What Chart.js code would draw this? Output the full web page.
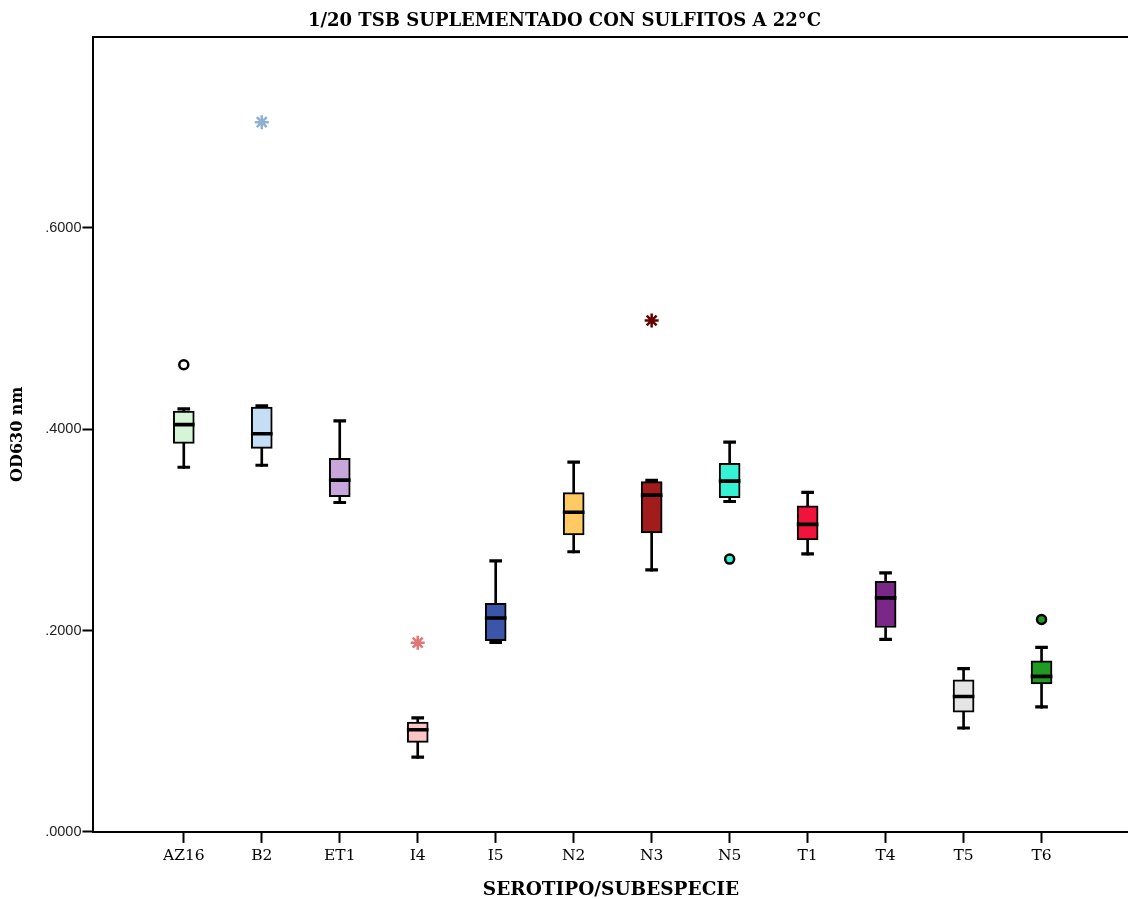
<!DOCTYPE html>
<html lang="es">
<head>
  <meta charset="UTF-8">
  <title>1/20 TSB suplementado con sulfitos a 22°C</title>
  <script src="https://cdn.jsdelivr.net/npm/chart.js"></script>
  <style>
    html, body { margin: 0; padding: 0; background: #fff; overflow: hidden; }
    /* a little wider than the window: the frame runs off the right edge */
    .chart-box { width: 1138px; height: 899px; }
  </style>
</head>
<body>
  <div class="chart-box">
    <canvas id="boxChart"></canvas>
  </div>

  <script>
    // values (OD630 nm)
    const categories = ['AZ16', 'B2', 'ET1', 'I4', 'I5', 'N2', 'N3', 'N5', 'T1', 'T4', 'T5', 'T6'];
    const whiskerLow  = [0.361, 0.363, 0.326, 0.073, 0.187, 0.277, 0.259, 0.327, 0.275, 0.190, 0.102, 0.123];
    const q1          = [0.386, 0.381, 0.333, 0.089, 0.190, 0.295, 0.297, 0.332, 0.290, 0.203, 0.119, 0.147];
    const medians     = [0.403, 0.394, 0.348, 0.100, 0.211, 0.316, 0.333, 0.347, 0.304, 0.231, 0.133, 0.153];
    const q3          = [0.418, 0.422, 0.371, 0.109, 0.227, 0.337, 0.348, 0.366, 0.324, 0.249, 0.151, 0.170];
    const whiskerHigh = [0.419, 0.422, 0.407, 0.112, 0.268, 0.366, 0.348, 0.386, 0.336, 0.256, 0.161, 0.182];

    // outliers (circles) and extremes (stars)
    const outlierGroups = ['AZ16', 'N5', 'T6'];
    const outlierValues = [0.464, 0.271, 0.211];
    const extremeGroups = ['B2', 'I4', 'N3'];
    const extremeValues = [0.705, 0.188, 0.508];

    const yTicks = [0, 0.2, 0.4, 0.6];

    const boxColors = ['#d6f5d6', '#c4def5', '#c8a6dc', '#ffc4c6', '#3b55a8', '#ffc963',
                       '#a31c1c', '#35f2d4', '#f0143c', '#7b2788', '#e4e4e4', '#1f9a22'];
    const outlierFill = ['#ffffff', '#35f2d4', '#1f9a22'];
    const extremeColors = ['#8eb0d2', '#e07676', '#640000'];

    const pos = name => categories.indexOf(name) + 1;
    const serif = 'DejaVu Serif';

    // zero-height floating bar, drawn minBarLength px thick
    const flatBar = (label, values, width, thick, order) => ({
      label: label,
      data: values.map((v, i) => ({ x: i + 1, y: [v, v] })),
      backgroundColor: '#000',
      borderWidth: 0,
      barThickness: width,
      minBarLength: thick,
      grouped: false,
      order: order
    });

    const ctx = document.getElementById('boxChart').getContext('2d');
    new Chart(ctx, {
      type: 'bar',
      data: {
        datasets: [
          {
            type: 'scatter',
            label: 'extremos',
            data: extremeGroups.map((g, i) => ({ x: pos(g), y: extremeValues[i] })),
            pointStyle: 'star',
            radius: 7,
            borderWidth: 2.5,
            borderColor: extremeColors,
            backgroundColor: extremeColors,
            order: 0
          },
          {
            type: 'scatter',
            label: 'atípicos',
            data: outlierGroups.map((g, i) => ({ x: pos(g), y: outlierValues[i] })),
            pointStyle: 'circle',
            radius: 4.5,
            borderWidth: 2.5,
            borderColor: '#000',
            backgroundColor: outlierFill,
            order: 1
          },
          flatBar('mediana', medians, 21, 3, 2),
          flatBar('max', whiskerHigh, 12, 2.5, 3),
          flatBar('min', whiskerLow, 12, 2.5, 4),
          {
            label: 'caja',
            data: q1.map((v, i) => ({ x: i + 1, y: [v, q3[i]] })),
            backgroundColor: boxColors,
            borderColor: '#000',
            borderWidth: 2,
            borderSkipped: false,
            barThickness: 21,
            grouped: false,
            order: 5
          },
          {
            label: 'bigote sup',
            data: q3.map((v, i) => ({ x: i + 1, y: [v, whiskerHigh[i]] })),
            backgroundColor: '#000',
            borderWidth: 0,
            barThickness: 2,
            grouped: false,
            order: 6
          },
          {
            label: 'bigote inf',
            data: whiskerLow.map((v, i) => ({ x: i + 1, y: [v, q1[i]] })),
            backgroundColor: '#000',
            borderWidth: 0,
            barThickness: 2,
            grouped: false,
            order: 7
          }
        ]
      },
      options: {
        responsive: true,
        maintainAspectRatio: false,
        animation: false,
        layout: { padding: { left: 0, right: 9, top: 0, bottom: 0 } },
        plugins: {
          legend: { display: false },
          tooltip: { enabled: false },
          title: {
            display: true,
            text: '1/20 TSB SUPLEMENTADO CON SULFITOS A 22°C',
            color: '#000',
            font: { family: serif, size: 18, weight: 'bold' },
            padding: { top: 11, bottom: 4 }
          }
        },
        scales: {
          x: {
            type: 'linear',
            offset: false,
            min: -0.158,
            max: 13.115,
            afterBuildTicks: scale => { scale.ticks = categories.map((c, i) => ({ value: i + 1 })); },
            afterFit: scale => { scale.paddingRight = 0; },
            ticks: {
              autoSkip: false,
              maxRotation: 0,
              color: '#000',
              padding: 4,
              font: { family: serif, size: 15.5 },
              callback: (value, index) => categories[index]
            },
            grid: { offset: false, drawOnChartArea: false, drawTicks: true, tickLength: 11, tickWidth: 2, tickColor: '#000' },
            border: { display: true, color: '#000', width: 2 },
            title: {
              display: true,
              text: 'SEROTIPO/SUBESPECIE',
              color: '#000',
              font: { family: serif, size: 18.5, weight: 'bold', lineHeight: 1 },
              padding: { top: 11, bottom: 0 }
            }
          },
          xTop: {
            type: 'linear',
            position: 'top',
            offset: false,
            min: 0,
            max: 1,
            ticks: { display: false },
            grid: { offset: false, drawOnChartArea: false, drawTicks: false },
            border: { display: true, color: '#000', width: 2 }
          },
          y: {
            min: 0,
            max: 0.79,
            afterBuildTicks: scale => { scale.ticks = yTicks.map(v => ({ value: v })); },
            ticks: {
              color: '#222',
              padding: 1,
              font: { family: 'Liberation Sans', size: 14.5 },
              callback: value => value.toFixed(4).replace(/^0/, '')
            },
            grid: { drawOnChartArea: false, drawTicks: true, tickLength: 11, tickWidth: 2, tickColor: '#000' },
            border: { display: true, color: '#000', width: 2 },
            title: {
              display: true,
              text: 'OD630 nm',
              color: '#000',
              font: { family: serif, size: 16, weight: 'bold' },
              padding: { top: 8, bottom: 17 }
            }
          }
        }
      }
    });
  </script>
</body>
</html>
